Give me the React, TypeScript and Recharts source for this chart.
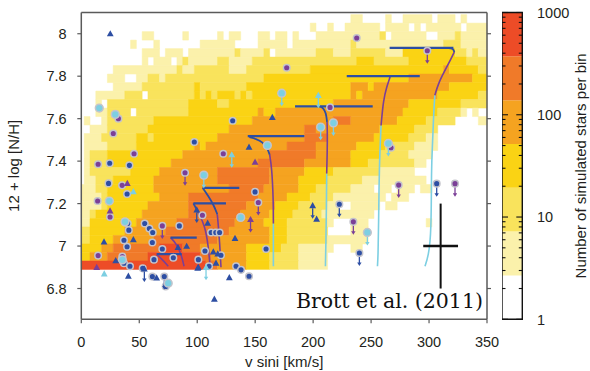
import React from "react";
import {
  ComposedChart,
  XAxis,
  YAxis,
  Line,
  Scatter,
  ReferenceArea,
  ReferenceDot,
  ErrorBar,
} from "recharts";

// axes
const xTicks = [0, 50, 100, 150, 200, 250, 300, 350];
const yTicks = [6.8, 7, 7.2, 7.4, 7.6, 7.8, 8];

// colour scale: number of simulated stars per bin (log)
const levelEdges = [1, 2.68, 7.2, 19.3, 51.8, 139, 373, 1000];
const levelColors = ["#ffffff", "#fbf1ab", "#f9e35c", "#fad314", "#f5a320", "#f07a29", "#ed4c27"];
const cbLabelValues = [1, 10, 100, 1000];
const cbTickValues = [
  1, 2, 3, 4, 5, 6, 7, 8, 9, 10, 20, 30, 40, 50, 60, 70, 80, 90, 100, 200, 300, 400, 500, 600, 700,
  800, 900, 1000,
];

// histogram, 5 km/s x 0.04 dex bins, centred on multiples of 5 km/s.
// one string per row, top row (8.05-8.09) first, one digit = colour level per bin
const vBin = 5;
const nBin = 0.04;
const topRowEdge = 8.09;
const heatRows = [
  "0000000000 0000000000 0000000000 0000000000 0000000110 0001001111 1011101000 0",
  "0000000000 0000000000 0000000000 0000000000 1001001111 1101111010 1111110111 1",
  "0000000000 0110000010 0000101100 0110110100 0111111111 1120111111 0011121111 1",
  "0000000001 0001000000 0111111000 0111110111 1111111211 1111111111 1112221111 1",
  "0000000000 0111011101 1111111211 1120111111 1222111222 2221113333 3333322121 1",
  "0000000000 0101110121 1111221111 2222222222 2222222233 3222222333 3333333222 2",
  "0000001111 1111111211 2222221112 2222222222 3333333333 3333333333 3334333332 2",
  "0000011100 1122122222 2222222222 2233333333 3333333333 3333333444 4444444433 3",
  "0000001111 1222222222 3222222223 3333333333 3333333444 3444444444 4444333333 3",
  "0001111122 2022222222 3232333232 3333333333 3333333434 4444444444 4433333332 2",
  "0001022222 2222222223 3333223333 3333333333 3333444444 4444444333 3333332222 2",
  "0001122220 2222222223 3333333333 3433444444 4444444444 4444443333 3322221010 0",
  "0100122222 2223333333 3333333333 4444444444 4444555444 4444433333 2222200001 1",
  "0011122222 2233333333 3333334444 4444444445 5444444444 4433333322 2200000000 0",
  "0111222222 3323333333 3333444444 4444444445 5554444444 4333333222 1100000000 0",
  "0111122222 3333333333 4344444444 4444445555 5444444433 3332222211 1100000000 0",
  "0122233333 3333333344 4444444444 4445555555 5444444333 3322222111 1000000000 0",
  "0122233333 3333334444 4444444444 4555555554 4444444333 2222222211 0000000000 0",
  "0122222223 3333444444 4444555555 5554444443 3333222222 2211111100 0000000000 0",
  "0112223333 3334444444 4444555555 5554444433 3332222221 1111111111 0000000000 0",
  "1112233333 3334444444 4444445555 5544444433 3222222111 1011011101 1000000000 0",
  "1111233333 3333444445 5555555555 5444443333 2222111111 1110111000 0000000000 0",
  "1111233333 3344444445 5555555554 4444333322 2221100111 1101100000 0000000000 0",
  "1123333333 3444444445 5555555544 4443333222 2211111111 1000000000 0000000000 0",
  "1133333333 4444444555 5555555444 4433332222 2221000111 0000000000 1000000000 0",
  "2233333344 4444455555 5555554444 4443332222 2220000111 0000000000 0000000000 0",
  "2233334444 4445555555 5555444444 4443332222 2221111111 0000000000 0000000000 0",
  "3333445555 5555666655 5444444443 3333322211 1111000110 0000000000 0000000000 0",
  "3344455555 5566666666 6554444443 3332222211 1110000000 0000000000 0000000000 0",
  "6666666666 6666666666 6655444443 3332222211 1110000000 0000000000 0000000000 0",
];

// observed stars [v sini, 12 + log N/H]
const blueCircles = [
  [97.5, 7.49], [24.5, 7.39], [41.5, 7.38], [130.6, 7.59], [23.5, 7.295], [39.5, 7.245],
  [40, 7.106], [41, 7.075], [36.8, 7.027], [39.5, 6.997], [36.8, 6.919], [42, 6.905],
  [53, 6.895], [54.7, 7.106], [58.7, 7.083], [61.6, 7.064], [61.3, 7.017], [69.9, 6.986],
  [79.4, 6.945], [62.7, 6.936], [84.6, 7.095], [101, 6.936], [106.7, 6.977], [110.2, 6.905],
  [112, 7.064], [116, 7.064], [119.3, 7.064], [120.5, 6.957], [149.9, 7.255], [159.4, 6.986],
  [133.5, 6.905], [137.8, 6.888], [144.7, 6.858], [61.3, 6.856], [72.8, 6.81],
];
const blueCirclesLimit = [[222.6, 7.197], [239.9, 6.967], [306.6, 7.294], [71.6, 6.856]];
const purpleCircles = [
  [32, 7.6], [27.6, 7.53], [45.5, 7.435], [14.5, 7.385], [122.5, 7.435], [177.2, 7.84],
  [237.6, 7.98], [214.6, 7.653], [267.2, 7.463], [35.2, 7.286], [14.1, 7.212], [24.8, 7.137],
  [14.5, 6.955], [35.4, 6.95], [104.5, 7.145],
];
const purpleCirclesLimit = [
  [89.5, 7.345], [298.5, 7.92], [273.8, 7.287], [322.4, 7.294], [234.7, 7.114], [152.7, 7.205],
  [69.9, 7.095],
];
const cyanCircles = [
  [15.5, 7.65], [29.3, 7.62], [160.5, 7.474], [24.2, 7.212], [37.7, 7.114], [35.4, 6.935],
  [137.5, 7.135], [75, 6.825],
];
const cyanCirclesLimit = [
  [105.7, 7.334], [172.9, 7.72], [206.5, 7.56], [217.5, 7.58], [264.9, 7.483], [246.8, 7.064],
];
const blueTriangles = [
  [25, 8.0], [144.7, 7.466], [164.8, 7.606], [19.6, 7.02], [44.9, 7.03], [29.7, 6.931],
  [40.6, 6.858], [83.4, 6.994], [90.9, 6.999], [100.4, 6.896], [109, 7.108], [113.9, 6.973],
  [117.7, 6.963], [116.2, 6.92], [132.6, 7.036], [127.7, 6.851], [114.8, 6.75], [65, 6.85],
  [203, 7.127], [101, 6.9],
];
const blueTrianglesLimit = [[99.6, 7.17], [54.4, 6.892], [199.6, 7.19]];
const purpleTriangles = [[149.9, 7.395], [39.7, 7.295], [24.8, 7.166], [13.3, 6.9]];
const purpleTrianglesLimit = [[146, 7.125]];
const cyanTriangles = [[44.9, 7.256], [19.8, 6.869]];
const cyanTrianglesLimit = [[129.8, 7.43], [204.5, 7.71], [107.6, 6.9]];

// evolutionary tracks, split by colour
const trackCyan = [
  [[296.5, 6.905], [299.4, 6.952], [302, 7.06], [302, 7.377], [303, 7.474], [304, 7.63], [305, 7.71]],
  [[255.5, 6.905], [256, 6.95], [256.5, 7.1], [257, 7.372], [258.6, 7.568]],
  [[210.6, 6.905], [211, 7.0], [211.5, 7.2], [211.7, 7.342]],
  [[165.7, 6.905], [165.7, 7.0], [165.7, 7.106]],
];
const trackPurple = [
  [[305, 7.71], [308, 7.765], [313, 7.82], [319, 7.882], [321.8, 7.914]],
  [[258.6, 7.568], [260.6, 7.688], [263.5, 7.75], [265.8, 7.785], [266.5, 7.8]],
  [[211.7, 7.342], [212.2, 7.45], [212.3, 7.533], [212, 7.585]],
  [[165.7, 7.106], [165.7, 7.216], [164.3, 7.373], [162.5, 7.43]],
  [[117.3, 7.15], [118.5, 7.08], [119.7, 6.986], [120.5, 6.9]],
  [[101, 7.158], [106.7, 7.095], [109.6, 7.0], [111, 6.91]],
  [[77, 7.04], [82.3, 7.01], [86.6, 6.955], [88.6, 6.905]],
  [[65, 6.96], [69.4, 6.94], [75, 6.905]],
];
const trackBlue = [
  [[321.8, 7.914], [321, 7.93], [316, 7.933]],
  [[212, 7.585], [211.1, 7.627], [208.8, 7.65], [206, 7.658]],
  [[162.5, 7.43], [160.8, 7.458], [156.5, 7.49], [150.7, 7.505], [145, 7.513]],
  [[104.7, 7.274], [109.6, 7.236], [114.5, 7.19], [117.3, 7.15]],
  [[96.7, 7.201], [101, 7.158]],
];
const trackTops = [
  [[266, 7.933], [321, 7.933]],
  [[229, 7.8], [292, 7.8]],
  [[184.4, 7.658], [251.4, 7.658]],
  [[143.6, 7.518], [192.4, 7.518]],
  [[104.7, 7.274], [136.3, 7.274]],
  [[96.7, 7.201], [124.8, 7.201]],
  [[77, 7.04], [99.6, 7.04]],
  [[65, 6.962], [86.6, 6.962]],
];

// typical error
const typicalError = [{ x: 310, y: 7.0, ex: 15, ey: 0.2 }];

const BLUE = "#2d4ea3";
const PURPLE = "#7b3f97";
const CYAN = "#7dcfe2";
const RING = "#c4c4cc";
const FRAME = "#5a5a5a";
const INK = "#231f20";
const SANS = "'Liberation Sans', Arial, Helvetica, sans-serif";

const toXY = (pts: number[][]) => pts.map(([x, y]) => ({ x, y }));

// merge runs of equal level into single rectangles
const heatCells: { x1: number; x2: number; y1: number; y2: number; level: number }[] = [];
heatRows.forEach((row, i) => {
  const s = row.replace(/ /g, "");
  const y2 = topRowEdge - i * nBin;
  const y1 = y2 - nBin;
  let j = 0;
  while (j < s.length) {
    let k = j;
    while (k + 1 < s.length && s[k + 1] === s[j]) k++;
    const level = Number(s[j]);
    if (level > 0) {
      heatCells.push({
        x1: Math.max(0, j * vBin - vBin / 2),
        x2: Math.min(350, k * vBin + vBin / 2),
        y1,
        y2,
        level,
      });
    }
    j = k + 1;
  }
});

const bands = levelColors.map((color, i) => ({ lo: levelEdges[i], hi: levelEdges[i + 1], color }));
const cbData = levelEdges.map((v) => ({ x: 0.5, v }));

type Kind = "circle" | "big" | "tri";

function makeMarker(kind: Kind, color: string, limit: boolean) {
  return function Marker(p: any) {
    const { cx, cy } = p;
    if (cx == null || cy == null) return <g />;
    const r = kind === "big" ? 3.9 : 3.3;
    const start = kind === "tri" ? cy + 2.5 : cy + r;
    return (
      <g>
        {limit && (
          <line x1={cx} x2={cx} y1={start} y2={cy + 11} stroke={color} strokeWidth={1.3} />
        )}
        {limit && (
          <polygon
            points={`${cx - 2.2},${cy + 9.5} ${cx + 2.2},${cy + 9.5} ${cx},${cy + 13}`}
            fill={color}
          />
        )}
        {kind === "tri" ? (
          <polygon
            points={`${cx},${cy - 3.6} ${cx + 3.4},${cy + 2.6} ${cx - 3.4},${cy + 2.6}`}
            fill={color}
          />
        ) : (
          <circle cx={cx} cy={cy} r={r} fill={color} stroke={RING} strokeWidth={1.5} />
        )}
      </g>
    );
  };
}

const pointGroups: { data: number[][]; shape: (p: any) => React.ReactElement }[] = [
  { data: blueCircles, shape: makeMarker("circle", BLUE, false) },
  { data: blueCirclesLimit, shape: makeMarker("circle", BLUE, true) },
  { data: purpleCircles, shape: makeMarker("circle", PURPLE, false) },
  { data: purpleCirclesLimit, shape: makeMarker("circle", PURPLE, true) },
  { data: cyanCircles, shape: makeMarker("big", CYAN, false) },
  { data: cyanCirclesLimit, shape: makeMarker("big", CYAN, true) },
  { data: blueTriangles, shape: makeMarker("tri", BLUE, false) },
  { data: blueTrianglesLimit, shape: makeMarker("tri", BLUE, true) },
  { data: purpleTriangles, shape: makeMarker("tri", PURPLE, false) },
  { data: purpleTrianglesLimit, shape: makeMarker("tri", PURPLE, true) },
  { data: cyanTriangles, shape: makeMarker("tri", CYAN, false) },
  { data: cyanTrianglesLimit, shape: makeMarker("tri", CYAN, true) },
];

const trackGroups = [
  ...trackCyan.map((pts) => ({ pts, color: CYAN, w: 1.6 })),
  ...trackPurple.map((pts) => ({ pts, color: PURPLE, w: 1.6 })),
  ...trackBlue.map((pts) => ({ pts, color: BLUE, w: 1.8 })),
  ...trackTops.map((pts) => ({ pts, color: BLUE, w: 2.2 })),
];

const tickFont = { fill: INK, fontSize: 14.5, fontFamily: SANS };

function XTitle({ viewBox }: any) {
  if (!viewBox) return null;
  const { x, y, width } = viewBox;
  return (
    <text x={x + width / 2} y={y + 47.7} textAnchor="middle" fill={INK} fontSize={15} fontFamily={SANS}>
      v sini [km/s]
    </text>
  );
}

function YTitle({ viewBox }: any) {
  if (!viewBox) return null;
  const { x, y, height } = viewBox;
  return (
    <text
      transform={`translate(${x + 19}, ${y + height / 2}) rotate(-90)`}
      textAnchor="middle"
      fill={INK}
      fontSize={15}
      fontFamily={SANS}
    >
      12 + log [N/H]
    </text>
  );
}

function CbTitle({ viewBox }: any) {
  if (!viewBox) return null;
  const { x, y, height } = viewBox;
  return (
    <text
      transform={`translate(${x + 64}, ${y + height / 2}) rotate(-90)`}
      textAnchor="middle"
      fill={INK}
      fontSize={15}
      fontFamily={SANS}
    >
      Number of simulated stars per bin
    </text>
  );
}

function CbTick(p: any) {
  const { x, y, payload } = p;
  const major = cbLabelValues.includes(payload.value);
  const len = major ? 6 : 3.5;
  const barW = 20.3;
  return (
    <g>
      <line x1={x - barW} x2={x - barW + len} y1={y} y2={y} stroke="#111" strokeWidth={1.1} />
      <line x1={x - len} x2={x} y1={y} y2={y} stroke="#111" strokeWidth={1.1} />
      {major && (
        <text x={x + 14.7} y={y} dy="0.36em" fill={INK} fontSize={14.5} fontFamily={SANS}>
          {payload.value}
        </text>
      )}
    </g>
  );
}

const NoTick = () => <g />;

export default function App() {
  return (
    <div style={{ position: "absolute", left: 0, top: 0, width: 590, height: 371, background: "#fff" }}>
      <div style={{ position: "absolute", left: 0, top: 0 }}>
        <ComposedChart width={590} height={371} margin={{ top: 6.5, right: 93, bottom: 0, left: 0 }}>
          <XAxis
            dataKey="x"
            type="number"
            domain={[0, 350]}
            ticks={xTicks}
            interval={0}
            allowDataOverflow
            height={51.7}
            tickSize={4}
            tickMargin={13.7}
            tick={tickFont}
            axisLine={{ stroke: FRAME, strokeWidth: 1.5 }}
            tickLine={{ stroke: FRAME, strokeWidth: 1.2 }}
            label={<XTitle />}
          />
          <XAxis
            xAxisId="top"
            orientation="top"
            type="number"
            domain={[0, 350]}
            ticks={xTicks}
            interval={0}
            allowDataOverflow
            height={6}
            tickSize={4}
            tick={NoTick}
            axisLine={{ stroke: FRAME, strokeWidth: 1.5 }}
            tickLine={{ stroke: FRAME, strokeWidth: 1.2 }}
          />
          <YAxis
            dataKey="y"
            type="number"
            domain={[6.655, 8.1]}
            ticks={yTicks}
            interval={0}
            allowDataOverflow
            width={81.3}
            tickSize={4}
            tickMargin={10.6}
            tick={tickFont}
            axisLine={{ stroke: FRAME, strokeWidth: 1.5 }}
            tickLine={{ stroke: FRAME, strokeWidth: 1.2 }}
            label={<YTitle />}
          />
          <YAxis
            yAxisId="right"
            orientation="right"
            type="number"
            domain={[6.655, 8.1]}
            ticks={yTicks}
            interval={0}
            allowDataOverflow
            width={10}
            tickSize={4}
            tick={NoTick}
            axisLine={{ stroke: FRAME, strokeWidth: 1.5 }}
            tickLine={{ stroke: FRAME, strokeWidth: 1.2 }}
          />
          {heatCells.map((c, i) => (
            <ReferenceArea
              key={`h${i}`}
              x1={c.x1}
              x2={c.x2}
              y1={c.y1}
              y2={c.y2}
              fill={levelColors[c.level]}
              fillOpacity={1}
              stroke={levelColors[c.level]}
              strokeWidth={0.5}
            />
          ))}
          {trackGroups.map((t, i) => (
            <Line
              key={`t${i}`}
              data={toXY(t.pts)}
              dataKey="y"
              type="basis"
              stroke={t.color}
              strokeWidth={t.w}
              dot={false}
              activeDot={false}
              isAnimationActive={false}
            />
          ))}
          <Scatter data={typicalError} shape={NoTick} isAnimationActive={false}>
            <ErrorBar dataKey="ex" direction="x" width={0} stroke="#111" strokeWidth={2.4} />
            <ErrorBar dataKey="ey" direction="y" width={0} stroke="#111" strokeWidth={2} />
          </Scatter>
          {pointGroups.map((g, i) => (
            <Scatter key={`p${i}`} data={toXY(g.data)} shape={g.shape} isAnimationActive={false} />
          ))}
          <ReferenceDot
            x={346.5}
            y={6.707}
            r={0}
            shape={(p: any) => (
              <text x={p.cx} y={p.cy} textAnchor="end" fill="#111" fontSize={20.5} fontFamily="'DejaVu Serif', serif">
                Brott et al. (2011)
              </text>
            )}
          />
        </ComposedChart>
      </div>
      <div style={{ position: "absolute", left: 502, top: 0 }}>
        <ComposedChart width={88} height={371} data={cbData} margin={{ top: 12.5, right: 0, bottom: 51.7, left: 0 }}>
          <XAxis dataKey="x" type="number" domain={[0, 1]} hide />
          <YAxis
            orientation="right"
            type="number"
            scale="log"
            domain={[1, 1000]}
            ticks={cbTickValues}
            interval={0}
            allowDataOverflow
            width={67.7}
            axisLine={false}
            tickLine={false}
            tickSize={0}
            tickMargin={0}
            tick={<CbTick />}
            label={<CbTitle />}
          />
          {bands.map((b, i) => (
            <ReferenceArea
              key={`b${i}`}
              y1={b.lo}
              y2={b.hi}
              fill={b.color}
              fillOpacity={1}
              stroke="none"
            />
          ))}
          <ReferenceArea y1={1} y2={1000} fill="none" stroke="#111" strokeWidth={1.4} />
          <Line dataKey="v" stroke="none" dot={false} activeDot={false} isAnimationActive={false} />
        </ComposedChart>
      </div>
    </div>
  );
}
